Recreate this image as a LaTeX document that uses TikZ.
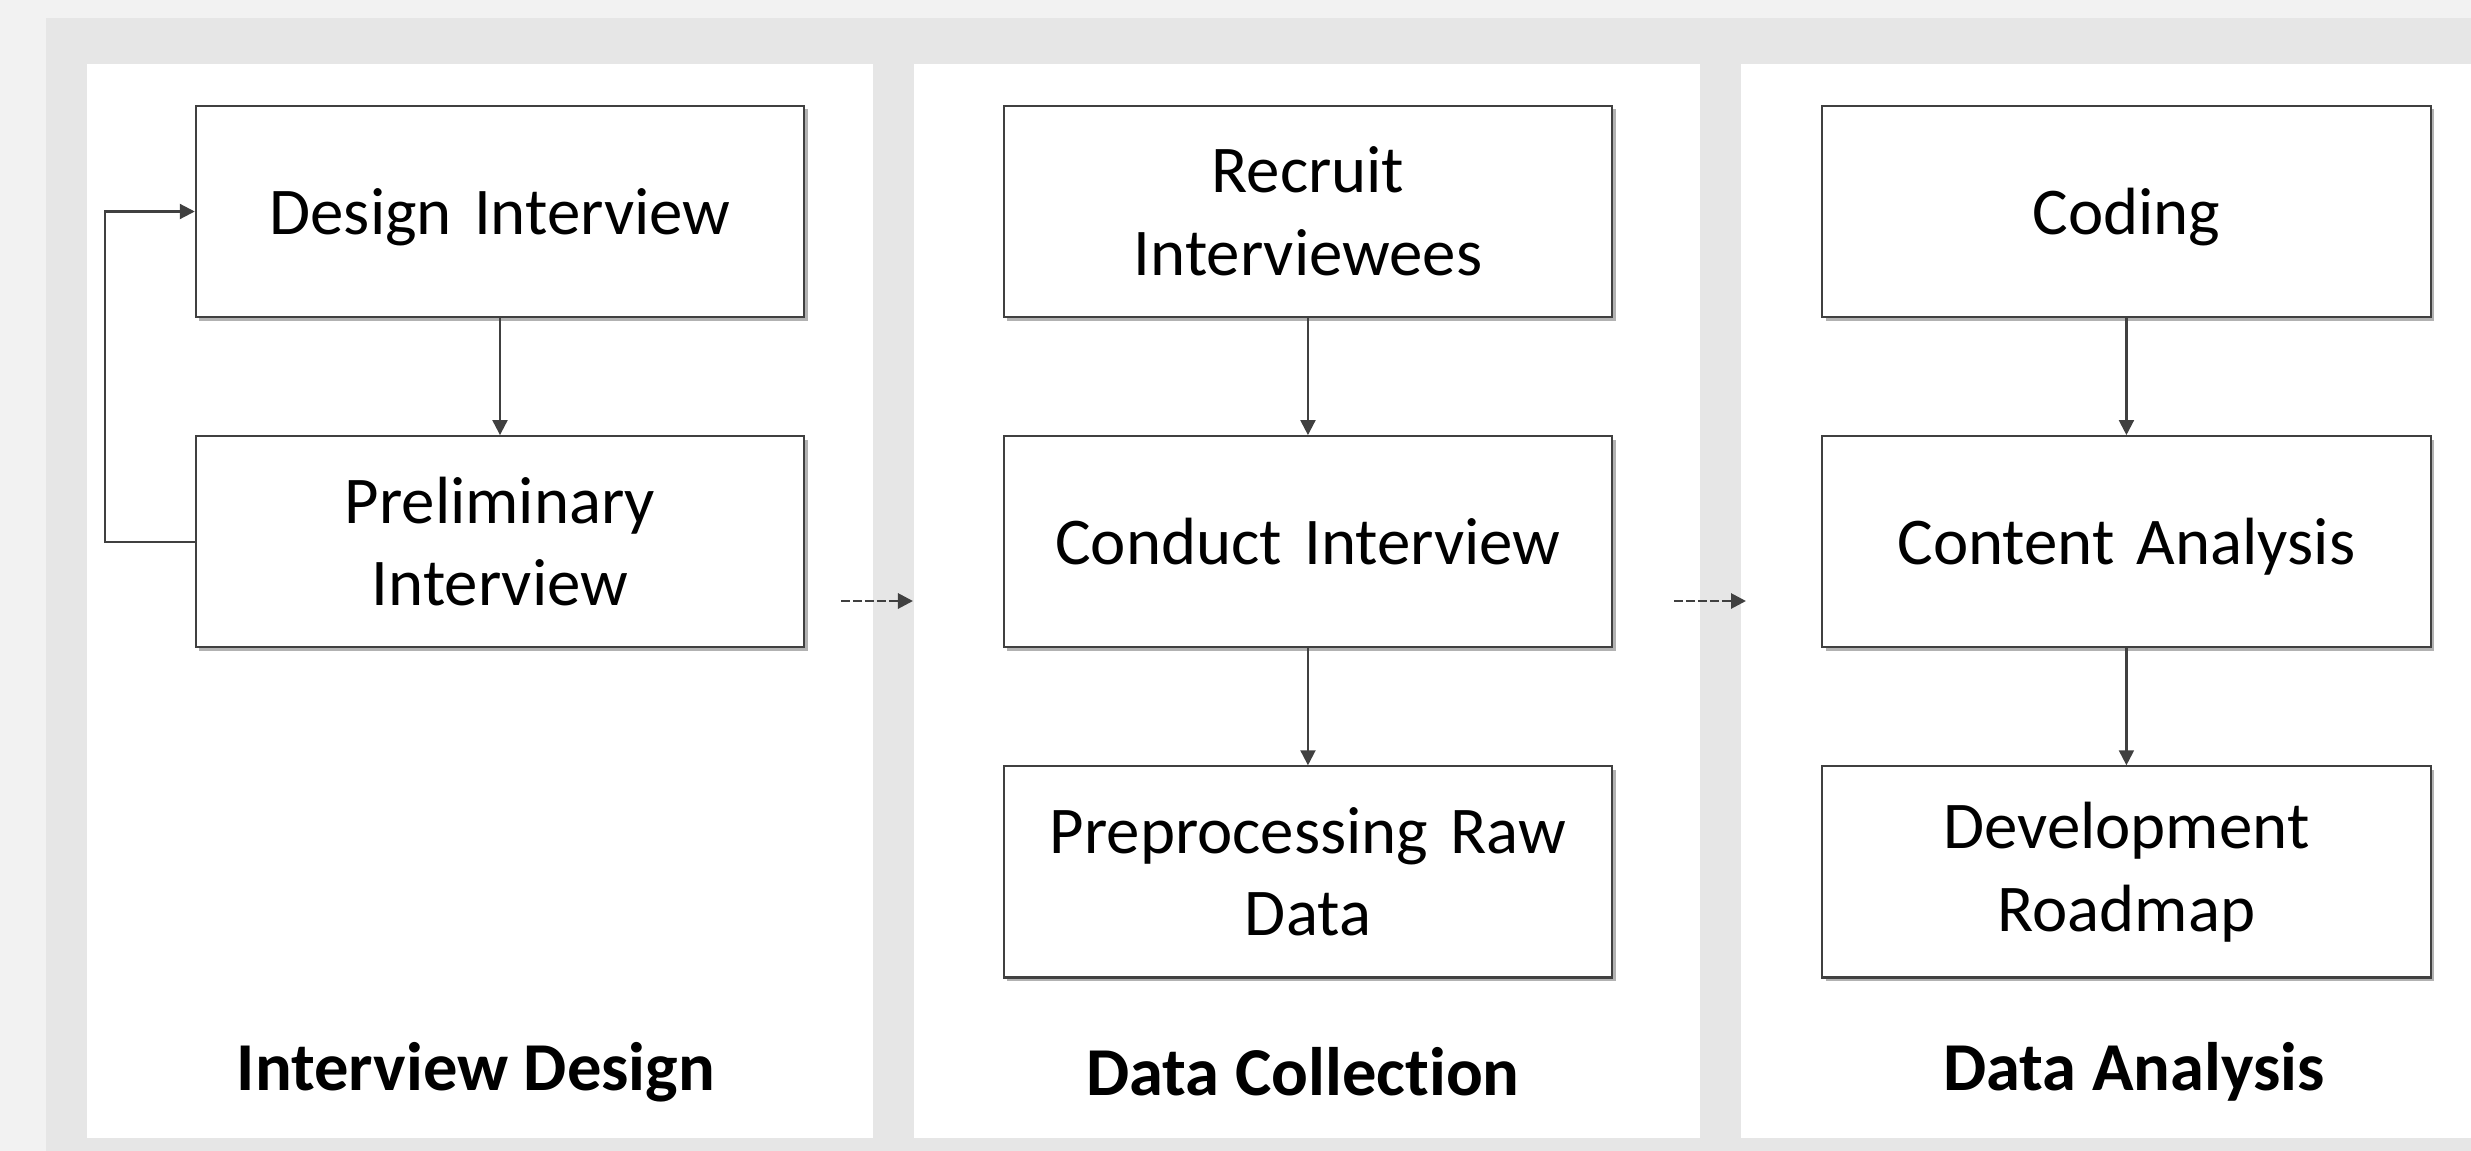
\documentclass[tikz,border=0pt]{standalone}
\usepackage{fontspec}
\setmainfont{Carlito}[RawFeature=-liga]
\usetikzlibrary{positioning,arrows.meta,shadows}
\definecolor{outerbg}{HTML}{F2F2F2}
\definecolor{innerbg}{HTML}{E6E6E6}
\definecolor{linegrey}{HTML}{404040}

\begin{document}
\begin{tikzpicture}[x=0.01cm,y=-0.01cm,node distance=3.3cm,on grid,
   stage/.style={draw=linegrey,line width=0.6pt,fill=white,
      minimum width=6.08cm,minimum height=2.11cm,text width=5.8cm,align=center,
      font=\fontsize{19}{23.5}\selectfont,
      drop shadow={shadow xshift=0.035cm,shadow yshift=-0.035cm,opacity=0.3,fill=black}},
   oneline/.style={text depth=0pt},
   title/.style={font=\fontsize{19.5}{24}\selectfont\bfseries},
   flow/.style={draw=linegrey,line width=0.6pt,-{Triangle[length=0.15cm,width=0.15cm]}}]
   \useasboundingbox (0,0) rectangle (2471,1151);
   % background and panels
   \fill[outerbg] (0,0) rectangle (2471,1151);
   \fill[innerbg] (46,18) rectangle (2471,1151);
   \fill[white] (87,64) rectangle (873,1138);
   \fill[white] (914,64) rectangle (1700,1138);
   \fill[white] (1741,64) rectangle (2471,1138);
   % steps
   \node[stage,oneline] (design) at (500,211.5) {Design Interview};
   \node[stage] (prelim) [below=of design] {Preliminary\\Interview};
   \node[stage] (recruit) [right=8.075cm of design] {Recruit\\Interviewees};
   \node[stage,oneline] (conduct) [below=of recruit] {Conduct Interview};
   \node[stage] (preproc) [below=of conduct] {Preprocessing Raw\\Data};
   \node[stage,oneline] (coding) [right=8.18cm of recruit] {Coding};
   \node[stage,oneline] (content) [below=of coding] {Content Analysis};
   \node[stage] (roadmap) [below=of content] {Development\\Roadmap};
   % phase titles
   \node[title] (tdesign) at (476,1072) {Interview Design};
   \node[title] (tcollect) at (1303,1072) {Data Collection};
   \node[title] (tanalysis) at (2134,1072) {Data Analysis};
   % links between phases
   \coordinate (gap1a) at (841,601);
   \coordinate (gap1b) at (913,601);
   \coordinate (gap2a) at (1674,601);
   \coordinate (gap2b) at (1746,601);
   \draw[flow] (design) -- (prelim);
   \draw[flow] (prelim.west) -- ++(-90,0) |- (design.west);
   \draw[flow] (recruit) -- (conduct);
   \draw[flow] (conduct) -- (preproc);
   \draw[flow] (coding) -- (content);
   \draw[flow] (content) -- (roadmap);
   \draw[flow,line width=0.8pt,dash pattern=on 2.5pt off 0.9pt] (gap1a) -- (gap1b);
   \draw[flow,line width=0.8pt,dash pattern=on 2.5pt off 0.9pt] (gap2a) -- (gap2b);
\end{tikzpicture}
\end{document}
